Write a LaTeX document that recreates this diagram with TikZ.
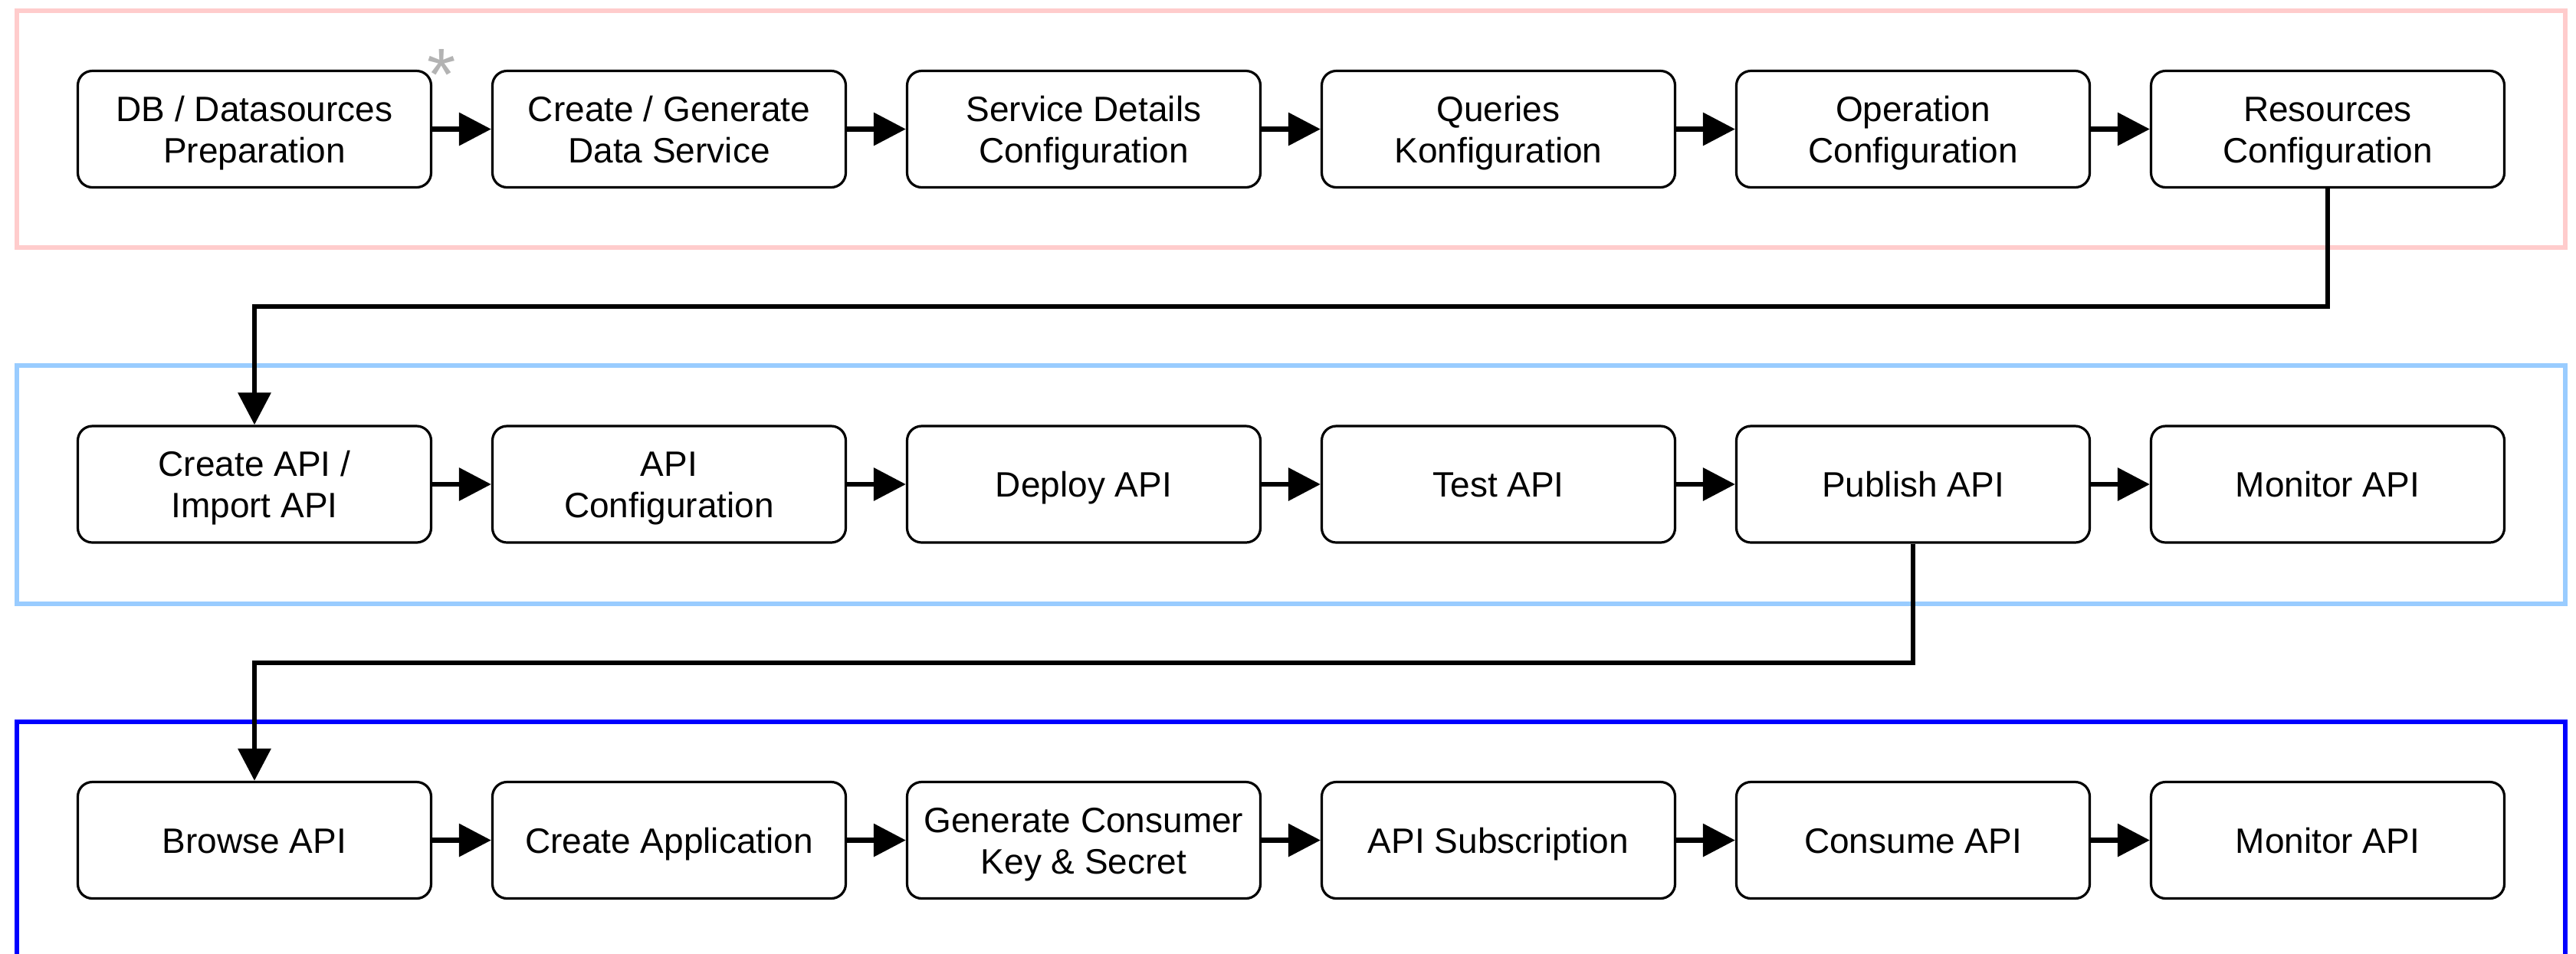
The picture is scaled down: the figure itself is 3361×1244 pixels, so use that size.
\documentclass[tikz,border=0pt]{standalone}
\usepackage{fontspec}
\setmainfont{Liberation Sans}
\usetikzlibrary{arrows.meta}
\definecolor{pinkc}{HTML}{FFCCCC}
\definecolor{lightb}{HTML}{99CCFF}
\definecolor{darkb}{HTML}{0000FF}
\definecolor{astc}{HTML}{B3B3B3}
\newcommand{\ls}{\rule[-5.25pt]{0pt}{27pt}}
\begin{document}
\begin{tikzpicture}[x=0.5pt,y=-0.5pt,
  stepbox/.style={draw=black, line width=1.6pt, rounded corners=9.5pt, fill=white,
    minimum width=230.5pt, minimum height=76pt, align=center, inner sep=0pt,
    font=\fontsize{23}{27}\selectfont},
  conn/.style={line width=3.3pt, -{Triangle[length=21pt,width=21pt]}},
  frame/.style={line width=3.3pt}]
\useasboundingbox (0,0) rectangle (3361,1244);
\begin{scope}
\clip (0,0) rectangle (3361,1244);
\draw[frame, draw=pinkc] (22,14) rectangle (3347,323);
\draw[frame, draw=lightb] (22,477) rectangle (3347,788);
\draw[frame, draw=darkb] (22,942) rectangle (3347,1320);
\end{scope}
% row 1
\node[stepbox] (a1) at (332,168.5) {\ls DB / Datasources\\\ls Preparation};
\node[stepbox] (a2) at (873,168.5) {\ls Create / Generate\\\ls Data Service};
\node[stepbox] (a3) at (1414,168.5) {\ls Service Details\\\ls Configuration};
\node[stepbox] (a4) at (1955,168.5) {\ls Queries\\\ls Konfiguration};
\node[stepbox] (a5) at (2496,168.5) {\ls Operation\\\ls Configuration};
\node[stepbox] (a6) at (3037,168.5) {\ls Resources\\\ls Configuration};
% row 2
\node[stepbox] (b1) at (332,632) {\ls Create API /\\\ls Import API};
\node[stepbox] (b2) at (873,632) {\ls API\\\ls Configuration};
\node[stepbox] (b3) at (1414,632) {\ls Deploy API};
\node[stepbox] (b4) at (1955,632) {\ls Test API};
\node[stepbox] (b5) at (2496,632) {\ls Publish API};
\node[stepbox] (b6) at (3037,632) {\ls Monitor API};
% row 3
\node[stepbox] (c1) at (332,1096.5) {\ls Browse API};
\node[stepbox] (c2) at (873,1096.5) {\ls Create Application};
\node[stepbox] (c3) at (1414,1096.5) {\ls Generate Consumer\\\ls Key \& Secret};
\node[stepbox] (c4) at (1955,1096.5) {\ls API Subscription};
\node[stepbox] (c5) at (2496,1096.5) {\ls Consume API};
\node[stepbox] (c6) at (3037,1096.5) {\ls Monitor API};
% asterisk
\node[text=astc, font=\fontsize{48}{48}\selectfont, anchor=base, inner sep=0pt] (ast) at (576,130) {*};
% arrows
\foreach \r in {a,b,c}{
  \foreach \i [evaluate=\i as \j using int(\i+1)] in {1,...,5}{
    \draw[conn] (\r\i.east) -- (\r\j.west);
  }
}
\coordinate (k1) at (332,400);
\coordinate (k2) at (332,865);
\draw[conn] (a6.south) -- (a6.south |- k1) -- (k1) -- (b1.north);
\draw[conn] (b5.south) -- (b5.south |- k2) -- (k2) -- (c1.north);
\end{tikzpicture}
\end{document}
